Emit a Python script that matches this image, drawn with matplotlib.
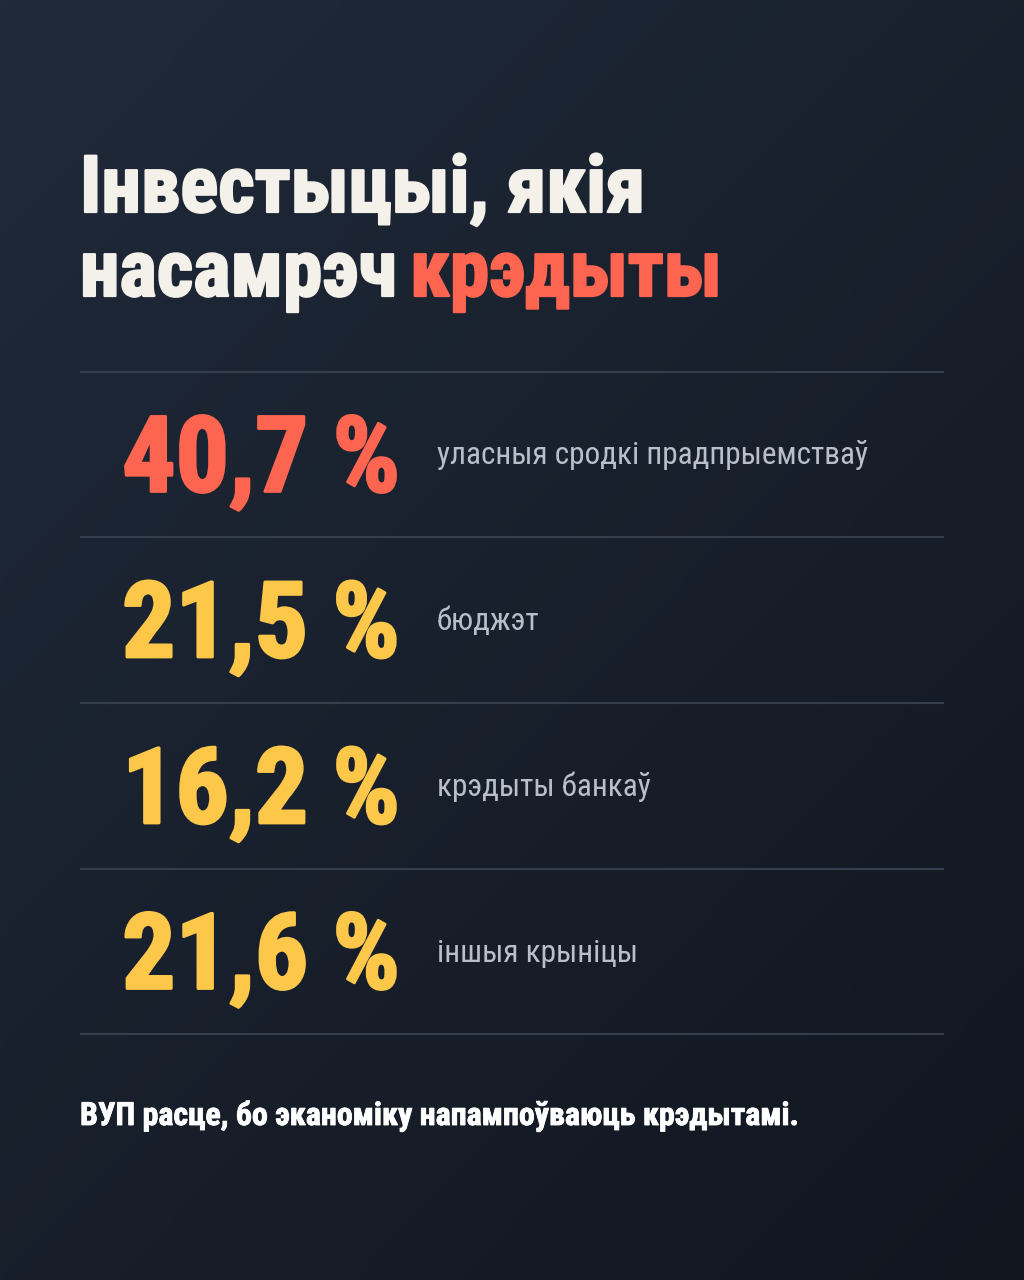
import matplotlib
import matplotlib.pyplot as plt
import matplotlib.patheffects as pe
import numpy as np

matplotlib.use('agg')

title_line1 = 'Інвестыцыі, якія'
title_line2a = 'насамрэч'
title_line2b = 'крэдыты'
shares = [40.7, 21.5, 16.2, 21.6]
sources = ['уласныя сродкі прадпрыемстваў', 'бюджэт', 'крэдыты банкаў', 'іншыя крыніцы']
footer = 'ВУП расце, бо эканоміку напампоўваюць крэдытамі.'

RED = '#fe6550'
YELLOW = '#fdc84a'
WHITE = '#f4f0ea'
GREY = '#b8bfca'
RULE = '#343e4c'
FONT = 'Roboto Condensed'


def heavy(col, w):
    # fake a heavier weight than the installed bold
    return [pe.withStroke(linewidth=w, foreground=col)]


W, H = 1024, 1280
fig = plt.figure(figsize=(W / 100, H / 100), dpi=100)
ax = fig.add_axes([0, 0, 1, 1])
ax.set_xlim(0, W)
ax.set_ylim(H, 0)
ax.axis('off')

# diagonal background gradient, lighter top-left
gx, gy = np.meshgrid(np.linspace(0, 1, 256), np.linspace(0, 1, 320))
g = (gx * 0.45 + gy * 0.55)
c0 = np.array([0x20, 0x2a, 0x3a]) / 255
c1 = np.array([0x11, 0x16, 0x1f]) / 255
img = c0[None, None, :] * (1 - g[..., None]) + c1[None, None, :] * g[..., None]
ax.imshow(img, extent=[0, W, H, 0], aspect='auto', zorder=0)

# title
ax.text(80, 212, title_line1, fontsize=57, fontweight='bold', family=FONT,
        color=WHITE, va='baseline', ha='left', path_effects=heavy(WHITE, 1.6))
t2 = ax.text(80, 296, title_line2a + ' ', fontsize=57, fontweight='bold', family=FONT,
             color=WHITE, va='baseline', ha='left', path_effects=heavy(WHITE, 1.6))
fig.canvas.draw()
r = fig.canvas.get_renderer()
bb = t2.get_window_extent(r)
x2 = 80 + bb.width - 5
ax.text(x2, 296, title_line2b, fontsize=57, fontweight='bold', family=FONT,
        color=RED, va='baseline', ha='left', path_effects=heavy(RED, 1.6))

# rows
rules = [372, 537, 703, 869, 1034]
for y in rules:
    ax.plot([80, 944], [y, y], color=RULE, lw=1.5, solid_capstyle='butt', zorder=1)

for i, (v, s) in enumerate(zip(shares, sources)):
    mid = (rules[i] + rules[i + 1]) / 2
    col = RED if i == 0 else YELLOW
    num = f'{v:.1f}'.replace('.', ',') + ' %'
    ax.text(400, mid + 37, num, fontsize=76, fontweight='bold', family=FONT,
            color=col, va='baseline', ha='right', path_effects=heavy(col, 2.0))
    ax.text(437, mid + 10, s, fontsize=22.5, family=FONT,
            color=GREY, va='baseline', ha='left')

ax.text(80, 1125, footer, fontsize=23, fontweight='bold', family=FONT,
        color='white', va='baseline', ha='left', path_effects=heavy('white', 0.6))

plt.savefig('out.png', dpi=100)
